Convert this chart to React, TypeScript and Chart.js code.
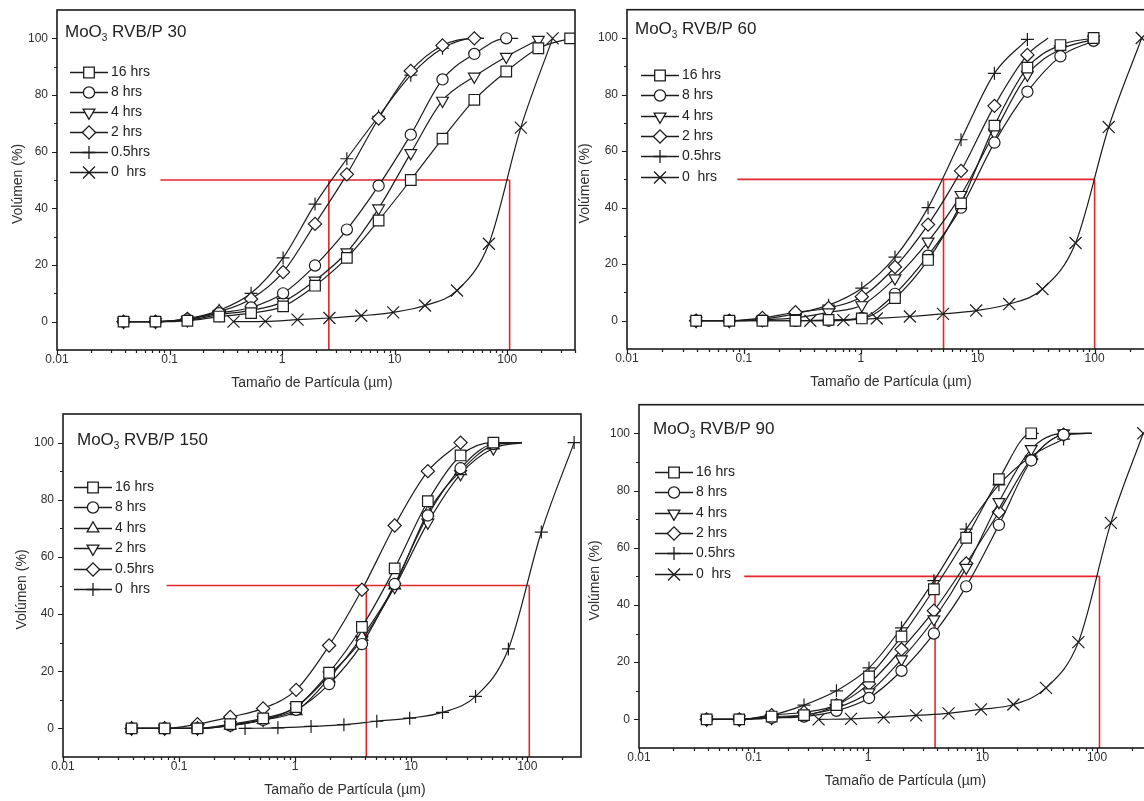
import React, { useEffect, useRef } from 'react';
import { Chart, registerables } from 'chart.js';
import { drawPoint } from 'chart.js/helpers';

Chart.register(...registerables);

const FONT = '"Liberation Sans", Arial, Helvetica, sans-serif';
const INK = '#1c1c1c';
const TEXT = '#2e2e2e';
const RED = '#e3262c';

// Particle-size bins (µm) of the milled powders and of the raw (0 hrs) powder
const sizeBins = [0.039, 0.075, 0.144, 0.276, 0.53, 1.02, 1.96, 3.76, 7.2, 13.9, 26.6, 51, 98, 189, 362];
const rawBins = [0.37, 0.71, 1.37, 2.63, 5.05, 9.7, 18.6, 35.8, 68.7, 132, 253];

const xTickValues = [0.01, 0.1, 1, 10, 100];
const yTickValues = [0, 20, 40, 60, 80, 100];
const D50 = 50;
const Y_MIN = -10;
const Y_MAX = 110;

// MoO3 RVB/P 30
const p30_16h = [0, 0, 0.3, 1.8, 3, 5.4, 12.7, 22.5, 35.7, 50, 64.6, 78.3, 88.3, 96.5, 100];
const p30_8h = [0, 0, 0.8, 3, 5, 10, 19.8, 32.5, 48, 66, 85.5, 94.5, 100];
const p30_4h = [0, 0, 0.5, 2.5, 4, 7, 14.5, 24.5, 40, 59.5, 78, 86.5, 93.5, 99.5];
const p30_2h = [0, 0, 1, 3.5, 8, 17.5, 34.5, 52, 71.7, 88.5, 97.5, 100];
const p30_05h = [0, 0, 1, 4, 10, 22.5, 41.5, 57.5, 72.5, 87, 96.5, 100];
const p30_0h = [0, 0.1, 0.7, 1.3, 2.1, 3.3, 5.7, 11, 27.5, 68.5, 100];
const red30 = [0.083, 2.6, 105];

// MoO3 RVB/P 60
const p60_16h = [0, 0, 0, 0, 0.3, 0.8, 8, 21.5, 41.5, 69, 89.5, 97.5, 100];
const p60_8h = [0, 0, 0, 0, 0, 1, 9.5, 23, 40, 63, 81, 93.5, 99];
const p60_4h = [0, 0, 0.3, 1, 3, 5.5, 15, 28, 44.5, 66.5, 87, 96, 99.5];
const p60_2h = [0, 0, 1, 3, 4.5, 8.5, 19, 34, 53, 76, 94];
const p60_05h = [0, 0, 0.5, 2.5, 5.5, 11.5, 22.5, 40, 64, 87.5, 99.5];
const p60_0h = [0, 0.2, 0.8, 1.5, 2.4, 3.6, 5.9, 11.2, 27.5, 68.5, 100];
const red60 = [0.088, 5.1, 100];

// MoO3 RVB/P 150
const p150_16h = [0, 0, 0, 1.5, 3.5, 7.5, 19.5, 35.5, 56, 79.5, 95.5, 100];
const p150_8h = [0, 0, 0, 1, 3, 6.5, 15.5, 29.5, 50.5, 74.5, 91, 99.5];
const p150_4h = [0, 0, 0, 1, 3, 6, 17.5, 32, 50, 75.5, 90, 99];
const p150_2h = [0, 0, 0, 1.2, 3, 7.5, 18.5, 31, 49.5, 72, 89, 98];
const p150_05h = [0, 0, 1.5, 4, 7, 13.5, 29, 48.5, 71, 90, 100];
const p150_0h = [0, 0.2, 0.7, 1.3, 2.5, 3.6, 5.6, 11.2, 27.8, 68.7, 100];
const red150 = [0.078, 4.1, 104];

// MoO3 RVB/P 90
const p90_16h = [0, 0, 1, 1.5, 5, 15, 29, 45.5, 63.5, 84, 100];
const p90_8h = [0, 0, 0.5, 1, 3, 7.5, 17, 30, 46.5, 68, 90.5, 99.5];
const p90_4h = [0, 0, 0.5, 1.5, 4, 9.5, 21, 35, 53, 76, 94.5, 100];
const p90_2h = [0, 0, 1.5, 2.5, 5, 12.5, 24.5, 38, 54.5, 72.5, 91, 99.5];
const p90_05h = [0, 0, 1.5, 5, 10, 18, 32, 48.5, 66.5, 82, 92, 98];
const p90_0h = [0, 0.2, 0.7, 1.4, 2.1, 3.5, 5.2, 11, 27, 68.7, 100];
const red90 = [0.083, 3.85, 105];

// Where a fitted curve keeps running (to 100 %) past its last marker, µm
const tails30 = { h8: 125, h2: 62, h05: 62 };
const tails60 = { h2: 40 };
const tails150 = { h16: 90, h8: 90, h4: 90, h2: 90 };
const tails90 = { h16: 31, h8: 90, h4: 90, h2: 90 };

const MARKERS: Record<string, { style: string; radius: number; rotation: number }> = {
  square: { style: 'rect', radius: 7.5, rotation: 0 },
  circle: { style: 'circle', radius: 5.6, rotation: 0 },
  triUp: { style: 'triangle', radius: 6.8, rotation: 0 },
  triDown: { style: 'triangle', radius: 6.8, rotation: 180 },
  diamond: { style: 'rectRot', radius: 6.6, rotation: 0 },
  plus: { style: 'cross', radius: 6.5, rotation: 0 },
  xcross: { style: 'crossRot', radius: 8.5, rotation: 0 },
};

type Series = { label: string; marker: string; xs: number[]; ys: number[]; tail?: number };
type PanelDef = {
  id: string;
  title: string;
  box: { left: number; top: number; width: number; height: number };
  area: { yAxisW: number; xAxisH: number; padTop: number; padRight: number };
  xMax: number;
  series: Series[];
  red: number[];
  deco: {
    titleDx: number; titleDy: number; legDx: number; legDy: number; legStep: number;
    yTitleDx: number; xTitleDx: number; xTitleDy: number;
  };
};

const panels: PanelDef[] = [
  {
    id: 'p30', title: 'RVB/P 30',
    box: { left: 0, top: 0, width: 600, height: 400 },
    area: { yAxisW: 57, xAxisH: 50, padTop: 10, padRight: 25 },
    xMax: 400,
    series: [
      { label: '16 hrs', marker: 'square', xs: sizeBins, ys: p30_16h },
      { label: '8 hrs', marker: 'circle', xs: sizeBins, ys: p30_8h, tail: tails30.h8 },
      { label: '4 hrs', marker: 'triDown', xs: sizeBins, ys: p30_4h },
      { label: '2 hrs', marker: 'diamond', xs: sizeBins, ys: p30_2h, tail: tails30.h2 },
      { label: '0.5hrs', marker: 'plus', xs: sizeBins, ys: p30_05h, tail: tails30.h05 },
      { label: '0  hrs', marker: 'xcross', xs: rawBins, ys: p30_0h },
    ],
    red: red30,
    deco: { titleDx: 8, titleDy: 22, legDx: 13, legDy: 62, legStep: 20, yTitleDx: -39, xTitleDx: -4, xTitleDy: 33 },
  },
  {
    id: 'p60', title: 'RVB/P 60',
    box: { left: 570, top: 0, width: 620, height: 400 },
    area: { yAxisW: 57, xAxisH: 51, padTop: 9, padRight: 25 },
    xMax: 400,
    series: [
      { label: '16 hrs', marker: 'square', xs: sizeBins, ys: p60_16h },
      { label: '8 hrs', marker: 'circle', xs: sizeBins, ys: p60_8h },
      { label: '4 hrs', marker: 'triDown', xs: sizeBins, ys: p60_4h },
      { label: '2 hrs', marker: 'diamond', xs: sizeBins, ys: p60_2h, tail: tails60.h2 },
      { label: '0.5hrs', marker: 'plus', xs: sizeBins, ys: p60_05h },
      { label: '0  hrs', marker: 'xcross', xs: rawBins, ys: p60_0h },
    ],
    red: red60,
    deco: { titleDx: 8, titleDy: 20, legDx: 14, legDy: 65, legStep: 20.4, yTitleDx: -42, xTitleDx: -5, xTitleDy: 33 },
  },
  {
    id: 'p150', title: 'RVB/P 150',
    box: { left: 0, top: 400, width: 600, height: 401 },
    area: { yAxisW: 63, xAxisH: 44, padTop: 14, padRight: 19 },
    xMax: 290,
    series: [
      { label: '16 hrs', marker: 'square', xs: sizeBins, ys: p150_16h, tail: tails150.h16 },
      { label: '8 hrs', marker: 'circle', xs: sizeBins, ys: p150_8h, tail: tails150.h8 },
      { label: '4 hrs', marker: 'triUp', xs: sizeBins, ys: p150_4h, tail: tails150.h4 },
      { label: '2 hrs', marker: 'triDown', xs: sizeBins, ys: p150_2h, tail: tails150.h2 },
      { label: '0.5hrs', marker: 'diamond', xs: sizeBins, ys: p150_05h },
      { label: '0  hrs', marker: 'plus', xs: rawBins, ys: p150_0h },
    ],
    red: red150,
    deco: { titleDx: 14, titleDy: 26, legDx: 11, legDy: 73, legStep: 20.4, yTitleDx: -41, xTitleDx: 23, xTitleDy: 33 },
  },
  {
    id: 'p90', title: 'RVB/P 90',
    box: { left: 580, top: 395, width: 610, height: 406 },
    area: { yAxisW: 59, xAxisH: 53, padTop: 9, padRight: 24 },
    xMax: 400,
    series: [
      { label: '16 hrs', marker: 'square', xs: sizeBins, ys: p90_16h, tail: tails90.h16 },
      { label: '8 hrs', marker: 'circle', xs: sizeBins, ys: p90_8h, tail: tails90.h8 },
      { label: '4 hrs', marker: 'triDown', xs: sizeBins, ys: p90_4h, tail: tails90.h4 },
      { label: '2 hrs', marker: 'diamond', xs: sizeBins, ys: p90_2h, tail: tails90.h2 },
      { label: '0.5hrs', marker: 'plus', xs: sizeBins, ys: p90_05h },
      { label: '0  hrs', marker: 'xcross', xs: rawBins, ys: p90_0h },
    ],
    red: red90,
    deco: { titleDx: 14, titleDy: 25, legDx: 16, legDy: 67, legStep: 20.4, yTitleDx: -44, xTitleDx: 3, xTitleDy: 33 },
  },
];

function makeDecor(p: PanelDef) {
  return {
    id: 'decor_' + p.id,
    afterDatasetsDraw(chart: any) {
      const { ctx, chartArea: a } = chart;
      const xs = chart.scales.x;
      const ys = chart.scales.y;
      ctx.save();
      ctx.strokeStyle = INK;
      ctx.lineWidth = 1.6;
      ctx.strokeRect(a.left, a.top, a.right - a.left, a.bottom - a.top);
      ctx.lineWidth = 1.2;
      ctx.beginPath();
      for (let e = -2; e <= 3; e++) {
        const d = Math.pow(10, e);
        for (let m = 1; m <= 9; m++) {
          const v = d * m;
          if (v > p.xMax) break;
          const px = Math.round(xs.getPixelForValue(v)) + 0.5;
          const len = m === 1 ? 5 : 3;
          ctx.moveTo(px, a.bottom);
          ctx.lineTo(px, a.bottom + len);
        }
      }
      for (let v = 0; v <= 100; v += 10) {
        const py = Math.round(ys.getPixelForValue(v)) + 0.5;
        const len = v % 20 === 0 ? 5 : 3;
        ctx.moveTo(a.left, py);
        ctx.lineTo(a.left - len, py);
      }
      ctx.stroke();
      ctx.restore();
    },
    afterDraw(chart: any) {
      const { ctx, chartArea: a } = chart;
      const d = p.deco;
      ctx.save();
      // axis titles
      ctx.fillStyle = TEXT;
      ctx.font = `14px ${FONT}`;
      ctx.textAlign = 'center';
      ctx.textBaseline = 'middle';
      ctx.fillText('Tamaño de Partícula (µm)', (a.left + a.right) / 2 + d.xTitleDx, a.bottom + d.xTitleDy);
      ctx.save();
      ctx.translate(a.left + d.yTitleDx, (a.top + a.bottom) / 2 + 4);
      ctx.rotate(-Math.PI / 2);
      ctx.fillText('Volúmen (%)', 0, 0);
      ctx.restore();
      // panel title with subscript
      ctx.textAlign = 'left';
      ctx.fillStyle = '#222';
      let tx = a.left + d.titleDx;
      const ty = a.top + d.titleDy;
      ctx.font = `17px ${FONT}`;
      ctx.fillText('MoO', tx, ty);
      tx += ctx.measureText('MoO').width;
      ctx.font = `10px ${FONT}`;
      ctx.fillText('3', tx, ty + 6);
      tx += ctx.measureText('3').width;
      ctx.font = `17px ${FONT}`;
      ctx.fillText(' ' + p.title, tx, ty);
      // legend
      p.series.forEach((s, i) => {
        const m = MARKERS[s.marker];
        const lx = a.left + d.legDx;
        const ly = Math.round(a.top + d.legDy + i * d.legStep) + 0.5;
        ctx.strokeStyle = INK;
        ctx.lineWidth = 1.3;
        ctx.beginPath();
        ctx.moveTo(lx, ly);
        ctx.lineTo(lx + 38, ly);
        ctx.stroke();
        ctx.fillStyle = '#ffffff';
        drawPoint(ctx, { pointStyle: m.style, radius: m.radius, rotation: m.rotation, borderWidth: 1.2 } as any, lx + 19, ly);
        ctx.fillStyle = '#222';
        ctx.font = `14px ${FONT}`;
        ctx.textBaseline = 'middle';
        ctx.fillText(s.label, lx + 41, ly);
      });
      ctx.restore();
    },
  };
}

function Panel({ p }: { p: PanelDef }) {
  const ref = useRef<HTMLCanvasElement>(null);
  useEffect(() => {
    const canvas = ref.current;
    if (!canvas) return;
    const datasets: any[] = p.series.map((s) => {
      const m = MARKERS[s.marker];
      const pts = s.ys.map((y, i) => ({ x: s.xs[i], y }));
      const nMarks = pts.length;
      if (s.tail !== undefined) pts.push({ x: s.tail, y: 100 });
      return {
        label: s.label,
        data: pts,
        borderColor: INK,
        borderWidth: 1.2,
        pointStyle: m.style,
        pointRadius: (c: any) => (c.dataIndex < nMarks ? m.radius : 0),
        pointRotation: m.rotation,
        pointBackgroundColor: '#ffffff',
        pointBorderColor: INK,
        pointBorderWidth: 1.2,
        cubicInterpolationMode: 'monotone',
        fill: false,
      };
    });
    const [start, d50a, d50b] = p.red;
    const redLine = (data: { x: number; y: number }[]) => ({
      data,
      borderColor: RED,
      borderWidth: 1.6,
      pointRadius: 0,
      tension: 0,
      fill: false,
    });
    datasets.push(redLine([{ x: start, y: D50 }, { x: d50b, y: D50 }]));
    datasets.push(redLine([{ x: d50a, y: D50 }, { x: d50a, y: Y_MIN }]));
    datasets.push(redLine([{ x: d50b, y: D50 }, { x: d50b, y: Y_MIN }]));

    const tickFont = { family: FONT, size: 12 };
    const chart = new Chart(canvas, {
      type: 'line',
      data: { datasets },
      options: {
        animation: false,
        responsive: false,
        devicePixelRatio: 1,
        events: [],
        layout: { padding: { left: 0, top: p.area.padTop, right: p.area.padRight, bottom: 0 } },
        plugins: { legend: { display: false }, tooltip: { enabled: false } },
        scales: {
          x: {
            type: 'logarithmic',
            min: 0.01,
            max: p.xMax,
            grid: { display: false, drawTicks: false },
            border: { display: false },
            ticks: {
              font: tickFont,
              color: TEXT,
              padding: 2,
              maxRotation: 0,
              autoSkip: false,
              callback: (v: any) => String(v),
            },
            afterBuildTicks: (s: any) => {
              s.ticks = xTickValues.map((v) => ({ value: v }));
            },
            afterFit: (s: any) => {
              s.height = p.area.xAxisH;
              s.paddingLeft = 0; s.paddingRight = 0; s.paddingTop = 0; s.paddingBottom = 0;
            },
          },
          y: {
            type: 'linear',
            min: Y_MIN,
            max: Y_MAX,
            grid: { display: false, drawTicks: false },
            border: { display: false },
            ticks: {
              font: tickFont,
              color: TEXT,
              padding: 9,
              autoSkip: false,
              callback: (v: any) => String(v),
            },
            afterBuildTicks: (s: any) => {
              s.ticks = yTickValues.map((v) => ({ value: v }));
            },
            afterFit: (s: any) => {
              s.width = p.area.yAxisW;
              s.paddingLeft = 0; s.paddingRight = 0; s.paddingTop = 0; s.paddingBottom = 0;
            },
          },
        },
      } as any,
      plugins: [makeDecor(p)],
    });
    return () => chart.destroy();
  }, [p]);
  return (
    <canvas
      ref={ref}
      width={p.box.width}
      height={p.box.height}
      style={{ position: 'absolute', left: p.box.left, top: p.box.top, width: p.box.width, height: p.box.height }}
    />
  );
}

export default function App() {
  return (
    <div style={{ position: 'fixed', left: 0, top: 0, width: 1144, height: 801, overflow: 'hidden', background: '#ffffff' }}>
      {panels.map((p) => (
        <Panel key={p.id} p={p} />
      ))}
    </div>
  );
}
